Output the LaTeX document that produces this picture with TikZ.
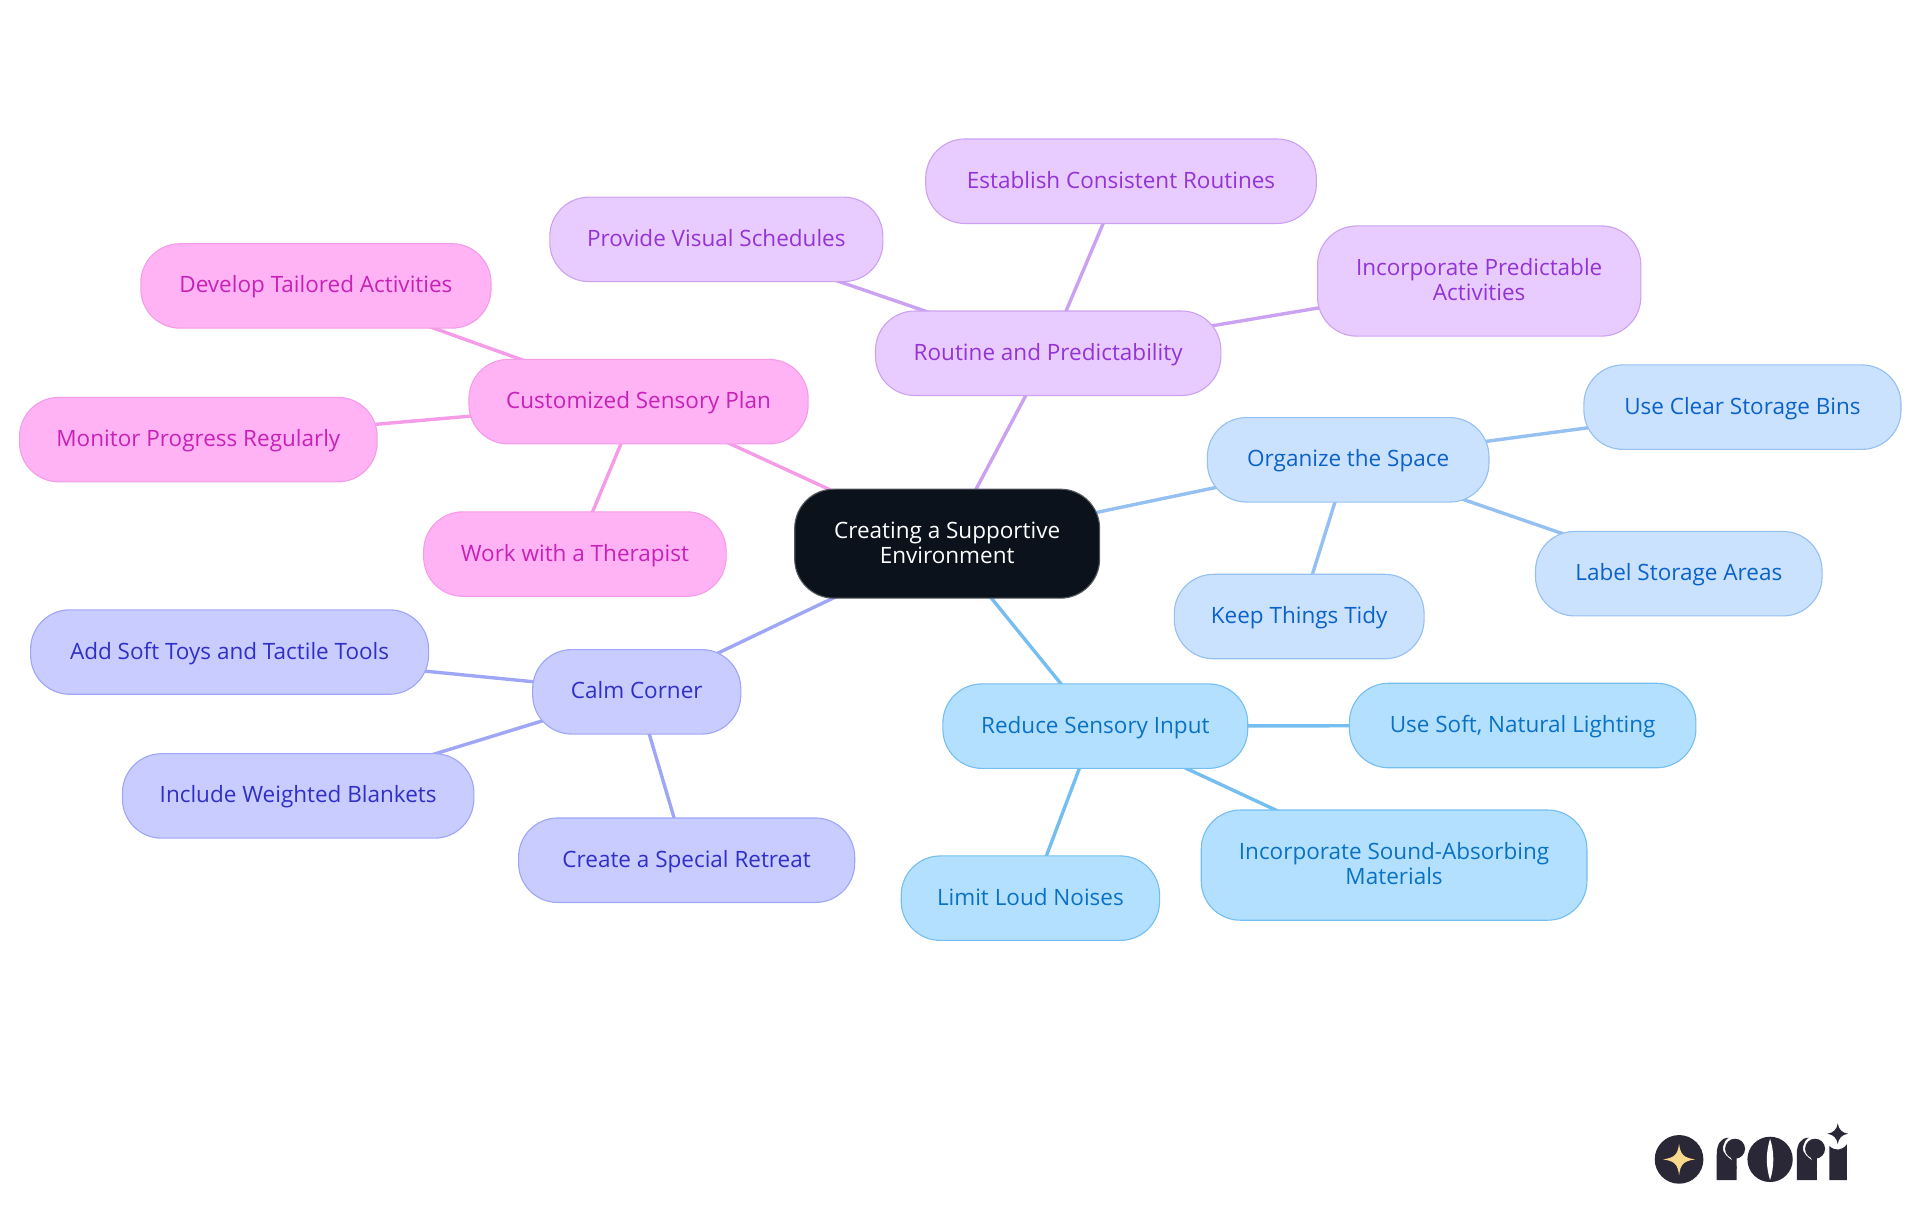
\documentclass[tikz,border=0pt]{standalone}
\usepackage{fontspec}
\setmainfont{Open Sans}
\usetikzlibrary{backgrounds}
\definecolor{rootc}{HTML}{0B121B}
\definecolor{pinkF}{HTML}{FFB3F5}\definecolor{pinkD}{HTML}{F59BE8}\definecolor{pinkT}{HTML}{C722B5}
\definecolor{purpF}{HTML}{E8CCFF}\definecolor{purpD}{HTML}{CBA2F2}\definecolor{purpT}{HTML}{9433D6}
\definecolor{indF}{HTML}{C8CCFF}\definecolor{indD}{HTML}{9FA6F5}\definecolor{indT}{HTML}{3030C8}
\definecolor{lblF}{HTML}{CBE2FE}\definecolor{lblD}{HTML}{94C0F2}\definecolor{lblT}{HTML}{0B62C8}
\definecolor{skyF}{HTML}{B4E0FF}\definecolor{skyD}{HTML}{75BEF0}\definecolor{skyT}{HTML}{0A72C4}
\definecolor{logoc}{HTML}{2A2836}\definecolor{logos}{HTML}{FAD98C}
\tikzset{
 mind/.style={draw,rounded corners=19.6pt,align=center,line width=0.55pt,inner sep=0pt,font=\fontsize{11.25}{12.4}\selectfont},
 pinkN/.style={mind,fill=pinkF,draw=pinkD,text=pinkT},
 purpN/.style={mind,fill=purpF,draw=purpD,text=purpT},
 indN/.style={mind,fill=indF,draw=indD,text=indT},
 lblN/.style={mind,fill=lblF,draw=lblD,text=lblT},
 skyN/.style={mind,fill=skyF,draw=skyD,text=skyT},
 rootN/.style={mind,fill=rootc,draw=rootc!70!white,text=white},
 link/.style={line width=1.7pt},
}
\newcommand{\nd}[7]{\node[#6,minimum width={(#4-#2)*0.61225pt},minimum height={(#5-#3)*0.61225pt}] (#1) at ({(#2+#4)/2},{(#3+#5)/2}) {\rule{0pt}{10.7pt}#7\strut};}
\begin{document}
\begin{tikzpicture}[x=0.61225pt,y=-0.61225pt]
\useasboundingbox (0,0) rectangle (1568,992.2);
\nd{root}{649}{399.5}{898}{488.5}{rootN}{Creating a Supportive\\Environment}
\nd{routine}{715}{254}{997}{323}{purpN}{Routine and Predictability}
\nd{estab}{756}{113.5}{1075}{182.5}{purpN}{Establish Consistent Routines}
\nd{visual}{449}{161}{721}{230}{purpN}{Provide Visual Schedules}
\nd{incorp}{1076}{184.5}{1340}{274.5}{purpN}{Incorporate Predictable\\Activities}
\nd{custom}{383}{293.5}{660}{362.5}{pinkN}{Customized Sensory Plan}
\nd{tailored}{115}{199}{401}{268}{pinkN}{Develop Tailored Activities}
\nd{monitor}{16}{324.5}{308}{393.5}{pinkN}{Monitor Progress Regularly}
\nd{therap}{346}{418}{593}{487}{pinkN}{Work with a Therapist}
\nd{organize}{986}{341}{1216}{410}{lblN}{Organize the Space}
\nd{bins}{1293.5}{298}{1552.5}{367}{lblN}{Use Clear Storage Bins}
\nd{labels}{1254}{434}{1488}{503}{lblN}{Label Storage Areas}
\nd{tidy}{959}{469}{1163}{538}{lblN}{Keep Things Tidy}
\nd{reduce}{770}{558.5}{1019}{627.5}{skyN}{Reduce Sensory Input}
\nd{lighting}{1102}{558}{1385}{627}{skyN}{Use Soft, Natural Lighting}
\nd{sound}{981}{661.5}{1296}{751.5}{skyN}{Incorporate Sound-Absorbing\\Materials}
\nd{noises}{736}{699}{947}{768}{skyN}{Limit Loud Noises}
\nd{calm}{435}{530.5}{605}{599.5}{indN}{Calm Corner}
\nd{toys}{25}{498}{350}{567}{indN}{Add Soft Toys and Tactile Tools}
\nd{blankets}{100}{615.5}{387}{684.5}{indN}{Include Weighted Blankets}
\nd{retreat}{423.5}{668}{698}{737}{indN}{Create a Special Retreat}
\begin{pgfonlayer}{background}
\draw[link,purpD] (root.center)--(routine.center);
\draw[link,purpD] (routine.center)--(estab.center);
\draw[link,purpD] (routine.center)--(visual.center);
\draw[link,purpD] (routine.center)--(incorp.center);
\draw[link,pinkD] (root.center)--(custom.center);
\draw[link,pinkD] (custom.center)--(tailored.center);
\draw[link,pinkD] (custom.center)--(monitor.center);
\draw[link,pinkD] (custom.center)--(therap.center);
\draw[link,lblD] (root.center)--(organize.center);
\draw[link,lblD] (organize.center)--(bins.center);
\draw[link,lblD] (organize.center)--(labels.center);
\draw[link,lblD] (organize.center)--(tidy.center);
\draw[link,skyD] (root.center)--(reduce.center);
\draw[link,skyD] (reduce.center)--(lighting.center);
\draw[link,skyD] (reduce.center)--(sound.center);
\draw[link,skyD] (reduce.center)--(noises.center);
\draw[link,indD] (root.center)--(calm.center);
\draw[link,indD] (calm.center)--(toys.center);
\draw[link,indD] (calm.center)--(blankets.center);
\draw[link,indD] (calm.center)--(retreat.center);
\end{pgfonlayer}
% logo, in the coordinates of a 3x crop of the reference
\begin{scope}[x=0.16667pt,y=-0.16667pt,shift={(4800,3268)}]
\fill[logoc] (237,210) circle (73);
\fill[logos] (237,163) .. controls (241,195) and (250,205) .. (285,210) .. controls (250,215) and (241,225) .. (237,258) .. controls (233,225) and (224,215) .. (189,210) .. controls (224,205) and (233,195) .. (237,163) -- cycle;
% r
\fill[logoc] (350,272) -- (350,195) .. controls (350,165) and (362,145) .. (386,145) .. controls (368,155) and (362,185) .. (378,198) .. controls (390,212) and (410,215) .. (410,240) -- (410,272) -- cycle;
\fill[logoc] (405,178) circle (30);
\fill[logoc] (392,205) -- (410,205) -- (410,240) -- cycle;
% o
\fill[logoc] (510,210) circle (68);
\fill[white] (510,148) .. controls (497,190) and (497,230) .. (510,272) .. controls (523,230) and (523,190) .. (510,148) -- cycle;
% r
\fill[logoc] (590,272) -- (590,195) .. controls (590,165) and (602,145) .. (626,145) .. controls (608,155) and (602,185) .. (618,198) .. controls (630,212) and (650,215) .. (650,240) -- (650,272) -- cycle;
\fill[logoc] (645,178) circle (30);
\fill[logoc] (632,205) -- (650,205) -- (650,240) -- cycle;
% i
\fill[logoc] (688,272) -- (688,170) .. controls (705,185) and (725,185) .. (740,165) -- (740,272) -- cycle;
\fill[logoc] (713,102) .. controls (716,120) and (725,130) .. (744,133) .. controls (725,136) and (716,146) .. (713,164) .. controls (710,146) and (701,136) .. (682,133) .. controls (701,130) and (710,120) .. (713,102) -- cycle;
\end{scope}
\end{tikzpicture}
\end{document}
